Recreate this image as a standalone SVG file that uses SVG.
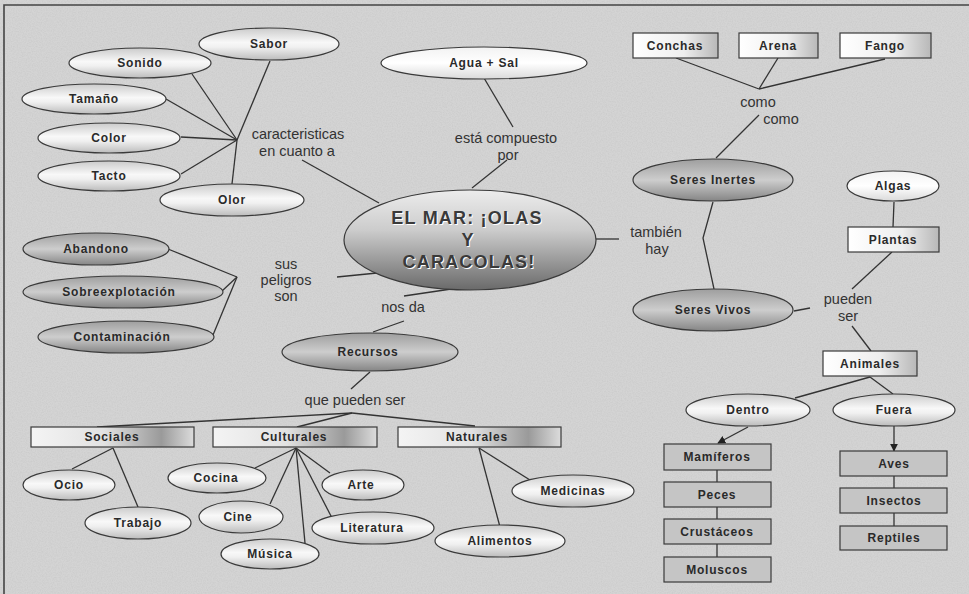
<svg xmlns="http://www.w3.org/2000/svg" width="969" height="594" viewBox="0 0 969 594">
  <defs>
    <style>
      .node { stroke: #3a3a3a; stroke-width: 1.2; }
      .lbl { font-family: "Liberation Sans", Arial, sans-serif; font-size: 12px; font-weight: bold; letter-spacing: 0.8px; fill: #2a2a2a; text-anchor: middle; }
      .link { font-family: "Liberation Sans", Arial, sans-serif; font-size: 14.5px; fill: #333; text-anchor: middle; }
      .main { font-family: "Liberation Sans", Arial, sans-serif; font-size: 18px; font-weight: bold; letter-spacing: 1.2px; text-anchor: middle; }
      #connectors line, #connectors polyline { stroke: #333; stroke-width: 1.3; fill: none; }
      .light { fill: url(#gLight); }
      .white { fill: url(#gWhite); }
      .dark { fill: url(#gDark); }
      .box { fill: url(#gBox); }
      .bar { fill: url(#gBar); }
      .grey { fill: #c5c5c5; }
    </style>
    <linearGradient id="gLight" x1="0" y1="0" x2="0" y2="1">
      <stop offset="0" stop-color="#cbcbcb"/>
      <stop offset="0.45" stop-color="#f8f8f8"/>
      <stop offset="0.6" stop-color="#f0f0f0"/>
      <stop offset="1" stop-color="#bcbcbc"/>
    </linearGradient>
    <linearGradient id="gWhite" x1="0" y1="0" x2="0" y2="1">
      <stop offset="0" stop-color="#f2f2f2"/>
      <stop offset="0.5" stop-color="#ffffff"/>
      <stop offset="1" stop-color="#dadada"/>
    </linearGradient>
    <linearGradient id="gDark" x1="0" y1="0" x2="0" y2="1">
      <stop offset="0" stop-color="#9e9e9e"/>
      <stop offset="0.5" stop-color="#cdcdcd"/>
      <stop offset="1" stop-color="#858585"/>
    </linearGradient>
    <linearGradient id="gMain" x1="0" y1="0" x2="0" y2="1">
      <stop offset="0" stop-color="#ececec"/>
      <stop offset="0.4" stop-color="#cccccc"/>
      <stop offset="1" stop-color="#6a6a6a"/>
    </linearGradient>
    <linearGradient id="gBox" x1="0" y1="0" x2="1" y2="0">
      <stop offset="0" stop-color="#ffffff"/>
      <stop offset="0.6" stop-color="#eeeeee"/>
      <stop offset="1" stop-color="#b8b8b8"/>
    </linearGradient>
    <linearGradient id="gBar" x1="0" y1="0" x2="1" y2="0">
      <stop offset="0" stop-color="#f4f4f4"/>
      <stop offset="0.45" stop-color="#e2e2e2"/>
      <stop offset="0.8" stop-color="#9a9a9a"/>
      <stop offset="1" stop-color="#dcdcdc"/>
    </linearGradient>
    <marker id="arrow" viewBox="0 0 10 10" refX="9" refY="5" markerWidth="8" markerHeight="8" orient="auto" markerUnits="userSpaceOnUse">
      <path d="M0,0 L10,5 L0,10 z" fill="#222"/>
    </marker>
    <filter id="grain" x="0" y="0" width="100%" height="100%">
      <feTurbulence type="fractalNoise" baseFrequency="0.8" numOctaves="2" seed="3" result="n"/>
      <feColorMatrix type="matrix" values="0 0 0 0 0.5  0 0 0 0 0.5  0 0 0 0 0.5  0 0 0 -1.6 1.05"/>
    </filter>
  </defs>

  <!-- paper background -->
  <rect x="0" y="0" width="969" height="594" fill="#d4d4d4"/>
  <rect x="0" y="0" width="969" height="594" filter="url(#grain)" opacity="0.4"/>
  <path d="M4,594 L4,5 L969,5" fill="none" stroke="#444" stroke-width="1.6"/>

  <g id="connectors">
    <line x1="237" y1="140" x2="192" y2="74"/>
    <line x1="237" y1="140" x2="166" y2="99"/>
    <line x1="237" y1="140" x2="181" y2="137"/>
    <line x1="237" y1="140" x2="181" y2="174"/>
    <line x1="237" y1="140" x2="270" y2="61"/>
    <line x1="237" y1="140" x2="232" y2="184"/>
    <line x1="302" y1="160" x2="379" y2="203"/>
    <line x1="484" y1="78" x2="513" y2="127"/>
    <line x1="507" y1="160" x2="472" y2="188"/>
    <line x1="676" y1="58" x2="759" y2="89"/>
    <line x1="778" y1="58" x2="759" y2="89"/>
    <line x1="885" y1="59" x2="759" y2="89"/>
    <line x1="759" y1="115" x2="716" y2="158"/>
    <polyline points="713,202 703,238 714,289"/>
    <line x1="596" y1="239" x2="619" y2="239"/>
    <line x1="894" y1="202" x2="893" y2="227"/>
    <line x1="892" y1="252" x2="852" y2="289"/>
    <line x1="794" y1="311" x2="810" y2="308"/>
    <line x1="852" y1="326" x2="871" y2="351"/>
    <line x1="870" y1="377" x2="795" y2="398"/>
    <line x1="870" y1="377" x2="893" y2="394"/>
    <line x1="748" y1="427" x2="718" y2="443" marker-end="url(#arrow)" stroke-width="2.2"/>
    <line x1="894" y1="426" x2="894" y2="451" marker-end="url(#arrow)"/>
    <line x1="717" y1="470" x2="717" y2="482"/>
    <line x1="717" y1="507" x2="717" y2="519"/>
    <line x1="717" y1="544" x2="717" y2="557"/>
    <line x1="894" y1="476" x2="894" y2="488"/>
    <line x1="894" y1="513" x2="894" y2="526"/>
    <line x1="237" y1="277" x2="168" y2="249"/>
    <line x1="237" y1="277" x2="222" y2="291"/>
    <line x1="237" y1="277" x2="213" y2="335"/>
    <line x1="337" y1="277" x2="377" y2="273"/>
    <line x1="404" y1="296" x2="458" y2="288"/>
    <line x1="404" y1="321" x2="373" y2="332"/>
    <line x1="370" y1="372" x2="351" y2="389"/>
    <line x1="352" y1="413" x2="97" y2="427"/>
    <line x1="352" y1="413" x2="297" y2="427"/>
    <line x1="352" y1="413" x2="475" y2="426"/>
    <line x1="113" y1="448" x2="72" y2="469"/>
    <line x1="113" y1="448" x2="138" y2="507"/>
    <line x1="296" y1="448" x2="255" y2="468"/>
    <line x1="296" y1="448" x2="270" y2="504"/>
    <line x1="296" y1="448" x2="305" y2="543"/>
    <line x1="296" y1="448" x2="332" y2="518"/>
    <line x1="296" y1="448" x2="330" y2="473"/>
    <line x1="479" y1="448" x2="530" y2="480"/>
    <line x1="479" y1="448" x2="500" y2="527"/>
  </g>

  <!-- linking phrases -->
  <g id="linking-phrases">
    <text class="link" x="298" y="139">caracteristicas</text>
    <text class="link" x="297" y="156">en cuanto a</text>
    <text class="link" x="506" y="143">está compuesto</text>
    <text class="link" x="508" y="160">por</text>
    <text class="link" x="758" y="107">como</text>
    <text class="link" x="781" y="124">como</text>
    <text class="link" x="656" y="237">también</text>
    <text class="link" x="657" y="254">hay</text>
    <text class="link" x="286" y="269">sus</text>
    <text class="link" x="286" y="285">peligros</text>
    <text class="link" x="286" y="301">son</text>
    <text class="link" x="403" y="312">nos da</text>
    <text class="link" x="355" y="405">que pueden ser</text>
    <text class="link" x="848" y="304">pueden</text>
    <text class="link" x="848" y="321">ser</text>
  </g>

  <g id="n-main">
    <ellipse cx="470" cy="240" rx="126" ry="50" fill="url(#gMain)" class="node"/>
    <g class="main" fill="#ffffff" transform="translate(1,1)">
      <text x="467" y="224">EL MAR: ¡OLAS</text>
      <text x="468" y="246">Y</text>
      <text x="469" y="268">CARACOLAS!</text>
    </g>
    <g class="main" fill="#3a3a3a">
      <text x="467" y="224">EL MAR: ¡OLAS</text>
      <text x="468" y="246">Y</text>
      <text x="469" y="268">CARACOLAS!</text>
    </g>
  </g>

  <g id="n-sabor"><ellipse cx="269" cy="44" rx="70" ry="16" class="node light"/><text class="lbl" x="269" y="48">Sabor</text></g>
  <g id="n-sonido"><ellipse cx="140" cy="63" rx="71" ry="15" class="node light"/><text class="lbl" x="140" y="67">Sonido</text></g>
  <g id="n-tamano"><ellipse cx="94" cy="99" rx="72" ry="15" class="node light"/><text class="lbl" x="94" y="103">Tamaño</text></g>
  <g id="n-color"><ellipse cx="109" cy="138" rx="71" ry="15" class="node light"/><text class="lbl" x="109" y="142">Color</text></g>
  <g id="n-tacto"><ellipse cx="109" cy="176" rx="71" ry="15" class="node light"/><text class="lbl" x="109" y="180">Tacto</text></g>
  <g id="n-olor"><ellipse cx="232" cy="200" rx="72" ry="16" class="node light"/><text class="lbl" x="232" y="204">Olor</text></g>

  <g id="n-agua"><ellipse cx="484" cy="63" rx="103" ry="16" class="node white"/><text class="lbl" x="484" y="67">Agua + Sal</text></g>

  <g id="n-conchas"><rect x="633" y="33" width="85" height="25" class="node box"/><text class="lbl" x="675" y="50">Conchas</text></g>
  <g id="n-arena"><rect x="739" y="33" width="79" height="25" class="node box"/><text class="lbl" x="778" y="50">Arena</text></g>
  <g id="n-fango"><rect x="840" y="33" width="91" height="25" class="node box"/><text class="lbl" x="885" y="50">Fango</text></g>

  <g id="n-inertes"><ellipse cx="713" cy="180" rx="80" ry="21" class="node dark"/><text class="lbl" x="713" y="184">Seres Inertes</text></g>
  <g id="n-vivos"><ellipse cx="713" cy="310" rx="80" ry="21" class="node dark"/><text class="lbl" x="713" y="314">Seres Vivos</text></g>
  <g id="n-algas"><ellipse cx="893" cy="186" rx="46" ry="15" class="node white"/><text class="lbl" x="893" y="190">Algas</text></g>
  <g id="n-plantas"><rect x="848" y="227" width="91" height="25" class="node box"/><text class="lbl" x="893" y="244">Plantas</text></g>
  <g id="n-animales"><rect x="823" y="351" width="94" height="25" class="node box"/><text class="lbl" x="870" y="368">Animales</text></g>
  <g id="n-dentro"><ellipse cx="748" cy="410" rx="62" ry="16" class="node light"/><text class="lbl" x="748" y="414">Dentro</text></g>
  <g id="n-fuera"><ellipse cx="894" cy="410" rx="61" ry="16" class="node light"/><text class="lbl" x="894" y="414">Fuera</text></g>

  <g id="n-mamiferos"><rect x="664" y="444" width="107" height="26" class="node grey"/><text class="lbl" x="717" y="461">Mamíferos</text></g>
  <g id="n-peces"><rect x="664" y="482" width="107" height="25" class="node grey"/><text class="lbl" x="717" y="499">Peces</text></g>
  <g id="n-crustaceos"><rect x="664" y="519" width="107" height="25" class="node grey"/><text class="lbl" x="717" y="536">Crustáceos</text></g>
  <g id="n-moluscos"><rect x="664" y="557" width="107" height="25" class="node grey"/><text class="lbl" x="717" y="574">Moluscos</text></g>
  <g id="n-aves"><rect x="840" y="451" width="107" height="25" class="node grey"/><text class="lbl" x="894" y="468">Aves</text></g>
  <g id="n-insectos"><rect x="840" y="488" width="107" height="25" class="node grey"/><text class="lbl" x="894" y="505">Insectos</text></g>
  <g id="n-reptiles"><rect x="840" y="526" width="107" height="24" class="node grey"/><text class="lbl" x="894" y="542">Reptiles</text></g>

  <g id="n-abandono"><ellipse cx="96" cy="249" rx="73" ry="16" class="node dark"/><text class="lbl" x="96" y="253">Abandono</text></g>
  <g id="n-sobreexplotacion"><ellipse cx="123" cy="292" rx="100" ry="16" class="node dark"/><text class="lbl" x="119" y="296">Sobreexplotación</text></g>
  <g id="n-contaminacion"><ellipse cx="126" cy="337" rx="88" ry="16" class="node dark"/><text class="lbl" x="122" y="341">Contaminación</text></g>

  <g id="n-recursos"><ellipse cx="370" cy="352" rx="88" ry="19" class="node dark"/><text class="lbl" x="368" y="356">Recursos</text></g>

  <g id="n-sociales"><rect x="31" y="427" width="163" height="20" class="node bar"/><text class="lbl" x="112" y="441">Sociales</text></g>
  <g id="n-culturales"><rect x="213" y="427" width="164" height="20" class="node bar"/><text class="lbl" x="294" y="441">Culturales</text></g>
  <g id="n-naturales"><rect x="398" y="427" width="163" height="20" class="node bar"/><text class="lbl" x="477" y="441">Naturales</text></g>

  <g id="n-ocio"><ellipse cx="69" cy="485" rx="46" ry="15" class="node light"/><text class="lbl" x="69" y="489">Ocio</text></g>
  <g id="n-trabajo"><ellipse cx="138" cy="523" rx="53" ry="16" class="node light"/><text class="lbl" x="138" y="527">Trabajo</text></g>
  <g id="n-cocina"><ellipse cx="217" cy="478" rx="49" ry="15" class="node light"/><text class="lbl" x="216" y="482">Cocina</text></g>
  <g id="n-cine"><ellipse cx="241" cy="517" rx="42" ry="16" class="node light"/><text class="lbl" x="238" y="521">Cine</text></g>
  <g id="n-musica"><ellipse cx="270" cy="554" rx="49" ry="15" class="node light"/><text class="lbl" x="270" y="558">Música</text></g>
  <g id="n-arte"><ellipse cx="363" cy="485" rx="41" ry="15" class="node light"/><text class="lbl" x="361" y="489">Arte</text></g>
  <g id="n-literatura"><ellipse cx="373" cy="528" rx="61" ry="16" class="node light"/><text class="lbl" x="372" y="532">Literatura</text></g>
  <g id="n-medicinas"><ellipse cx="573" cy="491" rx="61" ry="16" class="node light"/><text class="lbl" x="573" y="495">Medicinas</text></g>
  <g id="n-alimentos"><ellipse cx="500" cy="541" rx="65" ry="16" class="node light"/><text class="lbl" x="500" y="545">Alimentos</text></g>
</svg>
